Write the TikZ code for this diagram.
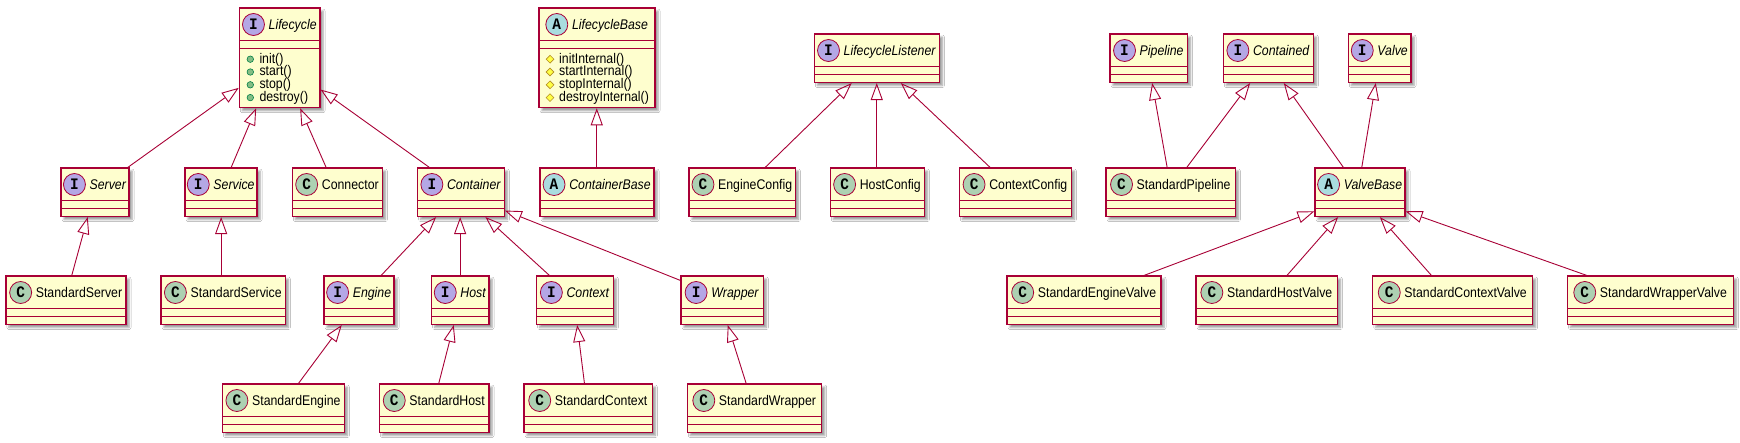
\documentclass[tikz,border=0pt]{standalone}
\usepackage{fontspec}
\setmainfont{Liberation Sans}[FakeStretch=0.88]
\newfontfamily\spotfont{Liberation Mono}[FakeStretch=0.9]
\usetikzlibrary{arrows.meta,calc,shapes.geometric,shadows.blur}
\definecolor{ubg}{HTML}{FEFECE}
\definecolor{ubd}{HTML}{A80036}
\definecolor{ispot}{HTML}{B4A7E5}
\definecolor{cspot}{HTML}{ADD1B2}
\definecolor{aspot}{HTML}{A9DCDF}
\definecolor{pubfill}{HTML}{84BE84}
\definecolor{pubdraw}{HTML}{038048}
\definecolor{profill}{HTML}{FFFF44}
\definecolor{prodraw}{HTML}{B38D22}
\tikzset{
  umlbox/.style={draw=ubd, fill=ubg, line width=1.1pt, rectangle, inner sep=0pt,
    blur shadow={shadow xshift=3pt, shadow yshift=-3pt, shadow blur radius=2pt, shadow opacity=40}},
  umlsep/.style={draw=ubd, line width=1.1pt},
  umlname/.style={inner sep=0pt, anchor=base, font=\fontsize{14}{16}\selectfont},
  spot/.style={circle, draw=ubd, line width=0.8pt, minimum size=22pt, inner sep=0pt,
    font=\spotfont\bfseries\fontsize{16}{16}\selectfont},
  ext/.style={draw=ubd, line width=0.9pt, -{Triangle[open, length=17pt, width=12pt]}},
  meth/.style={inner sep=0pt, anchor=base west, font=\fontsize{14}{16}\selectfont},
  pubicon/.style={circle, fill=pubfill, draw=pubdraw, line width=0.6pt, minimum size=6.5pt, inner sep=0pt},
  proicon/.style={diamond, fill=profill, draw=prodraw, line width=0.6pt, minimum size=8pt, inner sep=0pt}
}
% #1 name #2 left #3 right #4 top #5 bottom #6 letter #7 spot colour #8 label
\newcommand\umlbox[8]{%
  \node[umlbox, minimum width={(#3-#2)*1pt}, minimum height={(#5-#4)*1pt}] (#1) at ({(#2+#3)/2},{(#4+#5)/2}) {};
  \draw[umlsep] (#2,#4+32.5) -- (#3,#4+32.5) (#2,#4+40.5) -- (#3,#4+40.5);
  \node[umlname] (#1-t) at ({(#2+#3)/2+13},{#4+21}) {#8};
  \node[spot, fill=#7] (#1-s) at ($(#1-t.base west)+(-15,-4.5)$) {#6};
}
\newcommand\umlcls[7]{\umlbox{#1}{#2}{#3}{#4}{#4+48.5}{#5}{#6}{#7}}
\newcommand\pubm[4]{% name x baseline text
  \node[pubicon] (#1-i) at (#2+11,#3-3.8) {};
  \node[meth] (#1) at (#2+20,#3) {#4};
}
\newcommand\prom[4]{%
  \node[proicon] (#1-i) at (#2+11,#3-3.8) {};
  \node[meth] (#1) at (#2+20,#3) {#4};
}
\begin{document}
\begin{tikzpicture}[x=1pt, y=-1pt]
\fill[white] (0,0) rectangle (1740,442);
\useasboundingbox (0,0) rectangle (1740,442);

% ---- boxes with members
\umlbox{Lifecycle}{239.3}{320}{8}{107.7}{I}{ispot}{\textit{Lifecycle}}
\pubm{m1}{239.3}{63}{init()}
\pubm{m2}{239.3}{75.8}{start()}
\pubm{m3}{239.3}{88.6}{stop()}
\pubm{m4}{239.3}{101.4}{destroy()}

\umlbox{LifecycleBase}{539}{655}{8}{107.7}{A}{aspot}{\textit{LifecycleBase}}
\prom{p1}{539}{63}{initInternal()}
\prom{p2}{539}{75.8}{startInternal()}
\prom{p3}{539}{88.6}{stopInternal()}
\prom{p4}{539}{101.4}{destroyInternal()}

% ---- simple boxes
\umlcls{Server}{61}{129}{168}{I}{ispot}{\textit{Server}}
\umlcls{Service}{185}{257}{168}{I}{ispot}{\textit{Service}}
\umlcls{Connector}{292.3}{382.3}{168}{C}{cspot}{Connector}
\umlcls{Container}{417.7}{504.3}{168}{I}{ispot}{\textit{Container}}
\umlcls{ContainerBase}{540}{654}{168}{A}{aspot}{\textit{ContainerBase}}
\umlcls{LifecycleListener}{814.3}{939.3}{34}{I}{ispot}{\textit{LifecycleListener}}
\umlcls{EngineConfig}{689}{795.3}{168}{C}{cspot}{EngineConfig}
\umlcls{HostConfig}{830.3}{924.3}{168}{C}{cspot}{HostConfig}
\umlcls{ContextConfig}{959.3}{1071.3}{168}{C}{cspot}{ContextConfig}
\umlcls{Pipeline}{1110}{1187.3}{34}{I}{ispot}{\textit{Pipeline}}
\umlcls{Contained}{1223.3}{1313.3}{34}{I}{ispot}{\textit{Contained}}
\umlcls{Valve}{1348.3}{1411}{34}{I}{ispot}{\textit{Valve}}
\umlcls{StandardPipeline}{1106}{1235.3}{168}{C}{cspot}{StandardPipeline}
\umlcls{ValveBase}{1315}{1405}{168}{A}{aspot}{\textit{ValveBase}}
\umlcls{StandardServer}{6}{126}{276}{C}{cspot}{StandardServer}
\umlcls{StandardService}{161}{285.3}{276}{C}{cspot}{StandardService}
\umlcls{Engine}{324}{394}{276}{I}{ispot}{\textit{Engine}}
\umlcls{Host}{431.7}{489}{276}{I}{ispot}{\textit{Host}}
\umlcls{Context}{536.7}{613.3}{276}{I}{ispot}{\textit{Context}}
\umlcls{Wrapper}{681}{763.3}{276}{I}{ispot}{\textit{Wrapper}}
\umlcls{StandardEngine}{222.3}{344.3}{384}{C}{cspot}{StandardEngine}
\umlcls{StandardHost}{379.3}{489}{384}{C}{cspot}{StandardHost}
\umlcls{StandardContext}{524}{652.3}{384}{C}{cspot}{StandardContext}
\umlcls{StandardWrapper}{687.3}{821.7}{384}{C}{cspot}{StandardWrapper}
\umlcls{StandardEngineValve}{1007}{1161}{276}{C}{cspot}{StandardEngineValve}
\umlcls{StandardHostValve}{1196}{1337.3}{276}{C}{cspot}{StandardHostValve}
\umlcls{StandardContextValve}{1372.8}{1532.5}{276}{C}{cspot}{StandardContextValve}
\umlcls{StandardWrapperValve}{1567.5}{1733.3}{276}{C}{cspot}{StandardWrapperValve}

% ---- generalisations
\draw[ext] ([xshift=67.3pt]Server.north west) -- ([yshift=20.4pt]Lifecycle.south west);
\draw[ext] ([xshift=46.7pt]Service.north west) -- ([xshift=17.4pt]Lifecycle.south west);
\draw[ext] ([xshift=34.4pt]Connector.north west) -- ([xshift=61.4pt]Lifecycle.south west);
\draw[ext] ([xshift=12.3pt]Container.north west) -- ([yshift=18.7pt]Lifecycle.south east);

\draw[ext] ([xshift=57.7pt]Engine.north west) -- ([xshift=19pt]Container.south west);
\draw[ext] ([xshift=29pt]Host.north west) -- ([xshift=43pt]Container.south west);
\draw[ext] ([xshift=13.3pt]Context.north west) -- ([xshift=68.3pt]Container.south west);
\draw[ext] ([yshift=-5pt]Wrapper.north west) -- ([yshift=6.5pt]Container.south east);

\draw[ext] ([xshift=66.3pt]StandardServer.north west) -- ([xshift=27.3pt]Server.south west);
\draw[ext] ([xshift=60.7pt]StandardService.north west) -- ([xshift=36.7pt]Service.south west);
\draw[ext] ([xshift=76.7pt]StandardEngine.north west) -- ([xshift=18.3pt]Engine.south west);
\draw[ext] ([xshift=60pt]StandardHost.north west) -- ([xshift=22.6pt]Host.south west);
\draw[ext] ([xshift=61pt]StandardContext.north west) -- ([xshift=41pt]Context.south west);
\draw[ext] ([xshift=59.4pt]StandardWrapper.north west) -- ([xshift=47.3pt]Wrapper.south west);

\draw[ext] ([xshift=57.3pt]ContainerBase.north west) -- ([xshift=58.3pt]LifecycleBase.south west);

\draw[ext] ([xshift=76.7pt]EngineConfig.north west) -- ([xshift=38pt]LifecycleListener.south west);
\draw[ext] ([xshift=47pt]HostConfig.north west) -- ([xshift=63pt]LifecycleListener.south west);
\draw[ext] ([xshift=31.4pt]ContextConfig.north west) -- ([xshift=87pt]LifecycleListener.south west);

\draw[ext] ([xshift=61.7pt]StandardPipeline.north west) -- ([xshift=42.7pt]Pipeline.south west);
\draw[ext] ([xshift=81.3pt]StandardPipeline.north west) -- ([xshift=27.4pt]Contained.south west);
\draw[ext] ([xshift=29pt]ValveBase.north west) -- ([xshift=61pt]Contained.south west);
\draw[ext] ([xshift=47.3pt]ValveBase.north west) -- ([xshift=28pt]Valve.south west);

\draw[ext] ([xshift=137.5pt]StandardEngineValve.north west) -- ([yshift=5.8pt]ValveBase.south west);
\draw[ext] ([xshift=91.5pt]StandardHostValve.north west) -- ([xshift=23.7pt]ValveBase.south west);
\draw[ext] ([xshift=59.2pt]StandardContextValve.north west) -- ([xshift=65.4pt]ValveBase.south west);
\draw[ext] ([xshift=19.9pt]StandardWrapperValve.north west) -- ([yshift=5.8pt]ValveBase.south east);
\end{tikzpicture}
\end{document}
